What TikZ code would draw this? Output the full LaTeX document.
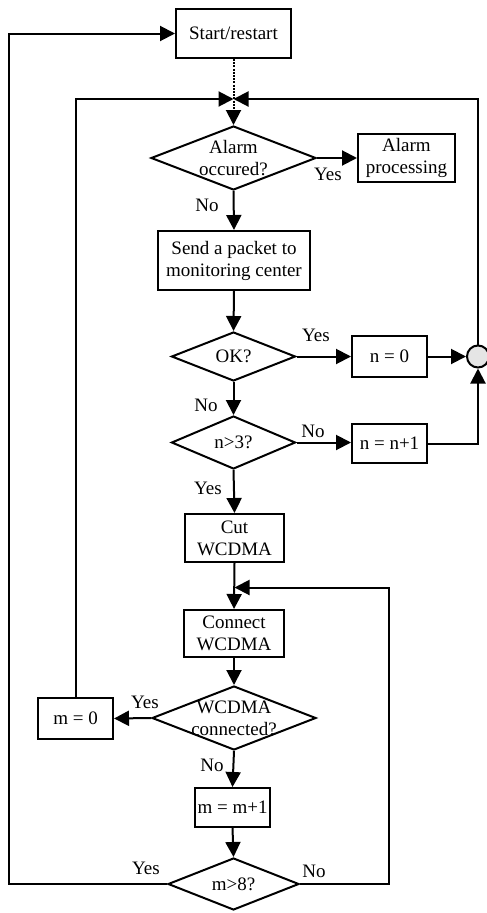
\documentclass[tikz,border=0pt]{standalone}
\usepackage{fontspec}
\setmainfont{Liberation Serif}
\usetikzlibrary{shapes.geometric,arrows.meta}
\newcommand{\fsz}{\fontsize{19}{22}\selectfont}
\begin{document}
\begin{tikzpicture}[x=1pt,y=-1pt,
  line width=2pt,
  >={Triangle[length=15pt,width=15pt]},
  box/.style={draw,rectangle,inner sep=0pt,align=center,font=\fsz},
  dia/.style={draw,diamond,inner sep=0pt},
  dtext/.style={label={[font=\fsz,align=center,inner sep=0pt]center:#1}},
  lbl/.style={font=\fsz,inner sep=0pt},
]
\useasboundingbox (0,0) rectangle (487,913);

\node[box,minimum width=115pt,minimum height=49pt] (start) at (233.5,33.5) {Start/restart};
\coordinate (m1) at (233.5,99);
\node[dia,minimum width=165pt,minimum height=64pt,dtext={Alarm\\occured?}] (alarm) at (233.5,158) {};
\node[box,minimum width=97pt,minimum height=48pt] (aproc) at (406.5,158) {Alarm\\processing};
\node[box,minimum width=152pt,minimum height=59pt] (send) at (234,260.5) {Send a packet to\\monitoring center};
\node[dia,minimum width=124pt,minimum height=49pt,dtext={OK?}] (ok) at (233.5,356.5) {};
\node[box,minimum width=75pt,minimum height=41pt] (n0) at (389.5,356.5) {n = 0};
\node[circle,draw,fill=gray!20,minimum size=22pt,inner sep=0pt] (c) at (478,356.5) {};
\node[dia,minimum width=124pt,minimum height=53pt,dtext={n>3?}] (n3) at (233.5,442.5) {};
\node[box,minimum width=75pt,minimum height=39pt] (ninc) at (389.5,443.5) {n = n+1};
\node[box,minimum width=99pt,minimum height=48pt] (cut) at (234.5,538) {Cut\\WCDMA};
\coordinate (m2) at (234.5,587.5);
\node[box,minimum width=100pt,minimum height=47pt] (conn) at (234,633.5) {Connect\\WCDMA};
\node[dia,minimum width=164pt,minimum height=64pt,dtext={WCDMA\\connected?}] (wc) at (234,718) {};
\node[box,minimum width=75pt,minimum height=41pt] (m0) at (75.5,718.5) {m = 0};
\node[box,minimum width=75pt,minimum height=39pt] (minc) at (232.5,807.5) {m = m+1};
\node[dia,minimum width=131pt,minimum height=52pt,dtext={m>8?}] (m8) at (233.5,884) {};

\coordinate (lt) at (75.5,99);
\coordinate (rt) at (478,99);
\coordinate (rb) at (389,884);
\coordinate (lb) at (9,884);

\draw[dash pattern=on 2pt off 1.2pt,->] (start.south) -- (alarm.north);
\draw[->] (m0.north) -- (lt) -- (m1);
\draw[->] (c.north) -- (rt) -- (m1);
\draw[->] (alarm.east) -- (aproc.west);
\draw[->] (alarm.south) -- (send.north);
\draw[->] (send.south) -- (ok.north);
\draw[->] (ok.east) -- (n0.west);
\draw[->] (n0.east) -- (c.west);
\draw[->] (ok.south) -- (n3.north);
\draw[->] (n3.east) -- (n3.east -| ninc.west);
\draw[->] (ninc.east) -| (c.south);
\draw[->] (n3.south) -- (cut.north);
\draw[->] (cut.south) -- (conn.north);
\draw[->] (m8.east) -- (rb) |- (m2);
\draw[->] (conn.south) -- (wc.north);
\draw[->] (wc.west) -- (m0.east);
\draw[->] (wc.south) -- (minc.north);
\draw[->] (minc.south) -- (m8.north);
\draw[->] (m8.west) -- (lb) |- (start.west);

\node[lbl] (l1) at (328,174) {Yes};
\node[lbl] (l2) at (207,205) {No};
\node[lbl] (l3) at (316,335) {Yes};
\node[lbl] (l4) at (206,405) {No};
\node[lbl] (l5) at (313,431) {No};
\node[lbl] (l6) at (208,488) {Yes};
\node[lbl] (l7) at (145,702) {Yes};
\node[lbl] (l8) at (212,765) {No};
\node[lbl] (l9) at (146,868) {Yes};
\node[lbl] (l10) at (314,871) {No};
\end{tikzpicture}
\end{document}
